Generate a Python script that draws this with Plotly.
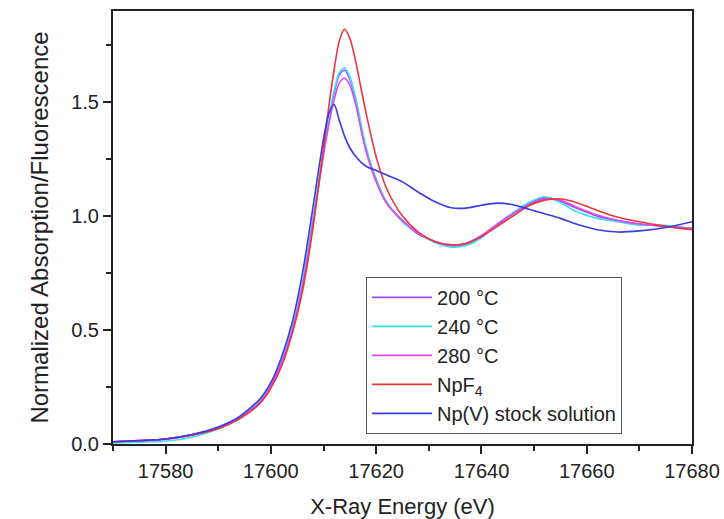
import plotly.graph_objects as go

# Np L3-edge XANES spectra
energy = [17570, 17575, 17580, 17585, 17590, 17594, 17598, 17600, 17602, 17604,
          17606, 17608, 17610, 17611, 17612, 17613, 17614, 17615, 17616, 17618,
          17620, 17622, 17625, 17628, 17631, 17634, 17637, 17640, 17643, 17646,
          17649, 17652, 17655, 17658, 17662, 17666, 17670, 17675, 17680]

t200 = [0.010, 0.015, 0.022, 0.040, 0.070, 0.115, 0.190, 0.260, 0.360, 0.500,
        0.700, 0.980, 1.280, 1.420, 1.540, 1.620, 1.640, 1.600, 1.520, 1.300,
        1.160, 1.060, 0.980, 0.920, 0.890, 0.870, 0.875, 0.910, 0.960, 1.010,
        1.055, 1.080, 1.065, 1.035, 1.000, 0.980, 0.965, 0.955, 0.945]

t240 = [0.005, 0.008, 0.012, 0.030, 0.066, 0.110, 0.190, 0.260, 0.360, 0.500,
        0.710, 0.990, 1.290, 1.430, 1.550, 1.630, 1.650, 1.610, 1.530, 1.310,
        1.160, 1.060, 0.975, 0.925, 0.885, 0.865, 0.870, 0.905, 0.965, 1.015,
        1.060, 1.085, 1.060, 1.020, 0.990, 0.975, 0.960, 0.960, 0.945]

t280 = [0.010, 0.014, 0.020, 0.038, 0.068, 0.112, 0.185, 0.255, 0.355, 0.490,
        0.690, 0.970, 1.270, 1.400, 1.510, 1.585, 1.605, 1.575, 1.500, 1.290,
        1.150, 1.055, 0.980, 0.925, 0.890, 0.872, 0.880, 0.915, 0.965, 1.010,
        1.050, 1.075, 1.070, 1.040, 1.005, 0.980, 0.965, 0.955, 0.945]

npf4 = [0.010, 0.015, 0.022, 0.040, 0.068, 0.110, 0.180, 0.245, 0.340, 0.480,
        0.670, 0.950, 1.300, 1.480, 1.640, 1.770, 1.820, 1.780, 1.690, 1.460,
        1.260, 1.120, 1.000, 0.930, 0.890, 0.875, 0.880, 0.910, 0.955, 1.000,
        1.045, 1.070, 1.075, 1.060, 1.025, 0.995, 0.975, 0.955, 0.940]

npv = [0.010, 0.015, 0.022, 0.042, 0.075, 0.120, 0.200, 0.270, 0.380, 0.530,
       0.750, 1.040, 1.340, 1.450, 1.490, 1.420, 1.350, 1.300, 1.265, 1.220,
       1.200, 1.180, 1.150, 1.105, 1.065, 1.038, 1.035, 1.048, 1.057, 1.050,
       1.030, 1.010, 0.990, 0.965, 0.940, 0.930, 0.935, 0.950, 0.975]

names = ["200 °C", "240 °C", "280 °C", "NpF<sub>4</sub>", "Np(V) stock solution"]
colors = ["#9a4dff", "#38e0ea", "#e046f0", "#e8363c", "#3a3ae6"]
series = [t200, t240, t280, npf4, npv]

fig = go.Figure()
for name, color, vals in zip(names, colors, series):
    fig.add_trace(go.Scatter(
        x=energy, y=vals, name=name, mode="lines",
        line=dict(color=color, width=1.6, shape="spline", smoothing=0.8),
    ))

family = "Liberation Sans, Arial, sans-serif"
axis_font = dict(family=family, size=20, color="#222")

fig.update_layout(
    width=724, height=519,
    margin=dict(l=113, r=32, t=11, b=75),
    paper_bgcolor="white", plot_bgcolor="white",
    showlegend=True,
    legend=dict(
        x=0.437, y=0.386, xanchor="left", yanchor="top",
        bgcolor="white", bordercolor="#555", borderwidth=1,
        font=dict(family=family, size=20, color="#222"),
        tracegroupgap=0, itemwidth=60, entrywidth=280, entrywidthmode="pixels",
    ),
)

fig.update_xaxes(
    range=[17570, 17680], tickmode="linear", tick0=17580, dtick=20, tickformat="d",
    ticks="outside", ticklen=8, tickwidth=2, tickcolor="#222",
    minor=dict(dtick=10, tick0=17570, ticks="outside", ticklen=5, tickwidth=2, tickcolor="#222"),
    showline=True, linewidth=2, linecolor="#222", mirror=True,
    showgrid=False, zeroline=False, automargin=False,
    tickfont=axis_font,
    title=dict(text="X-Ray Energy (eV)", font=dict(family=family, size=22, color="#222"), standoff=18),
)

fig.update_yaxes(
    range=[0, 1.9], tickmode="linear", tick0=0, dtick=0.5, tickformat=".1f",
    ticks="outside", ticklen=8, tickwidth=2, tickcolor="#222",
    minor=dict(dtick=0.25, tick0=0, ticks="outside", ticklen=5, tickwidth=2, tickcolor="#222"),
    showline=True, linewidth=2, linecolor="#222", mirror=True,
    showgrid=False, zeroline=False, automargin=False,
    tickfont=axis_font,
    title=dict(text="Normalized Absorption/Fluorescence", font=dict(family=family, size=24, color="#222"), standoff=16),
)

fig.write_html("out.html")
